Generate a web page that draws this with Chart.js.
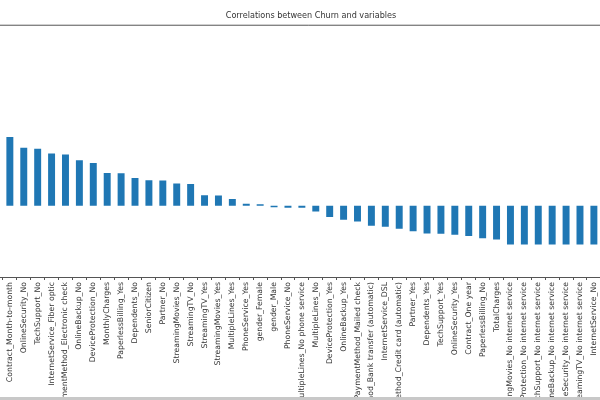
<!DOCTYPE html>
<html lang="en">
<head>
    <meta charset="UTF-8">
    <title>Correlations between Churn and variables</title>
    <style>
        body {
            margin: 0;
            width: 600px;
            height: 400px;
            overflow: hidden;
            background-color: #ffffff;
            position: relative;
        }
        .chart-container {
            position: absolute;
            left: -11px;
            top: 0;
            width: 644px;
            height: 400px;
        }
        .bottom-strip {
            position: absolute;
            left: 0;
            bottom: 0;
            width: 600px;
            height: 3px;
            background-color: #c8c8c8;
        }
    </style>
</head>
<body>
    <div class="chart-container">
        <canvas id="corrChart"></canvas>
    </div>
    <div class="bottom-strip"></div>

    <script src="https://cdn.jsdelivr.net/npm/chart.js"></script>
    <script>
        // correlation of every dummy column with Churn, sorted descending
        const categories = [
            'Churn', 'Contract_Month-to-month', 'OnlineSecurity_No', 'TechSupport_No',
            'InternetService_Fiber optic', 'PaymentMethod_Electronic check', 'OnlineBackup_No',
            'DeviceProtection_No', 'MonthlyCharges', 'PaperlessBilling_Yes', 'Dependents_No',
            'SeniorCitizen', 'Partner_No', 'StreamingMovies_No', 'StreamingTV_No',
            'StreamingTV_Yes', 'StreamingMovies_Yes', 'MultipleLines_Yes', 'PhoneService_Yes',
            'gender_Female', 'gender_Male', 'PhoneService_No', 'MultipleLines_No phone service',
            'MultipleLines_No', 'DeviceProtection_Yes', 'OnlineBackup_Yes',
            'PaymentMethod_Mailed check', 'PaymentMethod_Bank transfer (automatic)',
            'InternetService_DSL', 'PaymentMethod_Credit card (automatic)', 'Partner_Yes',
            'Dependents_Yes', 'TechSupport_Yes', 'OnlineSecurity_Yes', 'Contract_One year',
            'PaperlessBilling_No', 'TotalCharges', 'StreamingMovies_No internet service',
            'DeviceProtection_No internet service', 'TechSupport_No internet service',
            'OnlineBackup_No internet service', 'OnlineSecurity_No internet service',
            'StreamingTV_No internet service', 'InternetService_No', 'Contract_Two year', 'tenure'
        ];
        const corrValues = [
            1.0, 0.405, 0.342, 0.337,
            0.308, 0.302, 0.268,
            0.252, 0.193, 0.192, 0.164,
            0.151, 0.150, 0.131, 0.129,
            0.063, 0.061, 0.040, 0.012,
            0.009, -0.009, -0.012, -0.012,
            -0.033, -0.066, -0.082,
            -0.092, -0.118,
            -0.124, -0.135, -0.150,
            -0.163, -0.165, -0.171, -0.178,
            -0.191, -0.199, -0.228,
            -0.228, -0.228,
            -0.228, -0.228,
            -0.228, -0.228, -0.302, -0.352
        ];

        // matplotlib style 5% margins on the value axis
        const vMax = Math.max(...corrValues);
        const vMin = Math.min(...corrValues);
        const span = vMax - vMin;

        const frameLine = {
            id: 'frameLine',
            afterDraw(chart) {
                const { ctx, chartArea } = chart;
                ctx.save();
                ctx.strokeStyle = '#555';
                ctx.lineWidth = 1;
                ctx.beginPath();
                ctx.moveTo(chartArea.left, chartArea.top + 0.5);
                ctx.lineTo(chartArea.right, chartArea.top + 0.5);
                ctx.stroke();
                ctx.restore();
            }
        };

        new Chart(document.getElementById('corrChart'), {
            type: 'bar',
            data: {
                labels: categories,
                datasets: [{
                    label: 'Churn',
                    data: corrValues,
                    backgroundColor: '#1f77b4',
                    categoryPercentage: 1.0,
                    barPercentage: 0.5
                }]
            },
            options: {
                responsive: true,
                maintainAspectRatio: false,
                animation: false,
                layout: { padding: 0 },
                plugins: {
                    legend: { display: false },
                    tooltip: { enabled: false },
                    title: {
                        display: true,
                        text: 'Correlations between Churn and variables',
                        color: '#333',
                        font: { family: 'DejaVu Sans', size: 8.1, weight: 'normal', lineHeight: 1.2 },
                        padding: { top: 11, bottom: 4 }
                    }
                },
                scales: {
                    x: {
                        offset: true,
                        border: { display: true, color: '#555', width: 1 },
                        grid: { display: true, drawOnChartArea: false, drawTicks: true, tickLength: 3, color: '#555' },
                        ticks: {
                            autoSkip: false,
                            minRotation: 90,
                            maxRotation: 90,
                            padding: 2,
                            color: '#333',
                            font: { family: 'DejaVu Sans', size: 7.75 }
                        },
                        afterFit: (scale) => { scale.height = 123; }
                    },
                    y: {
                        display: false,
                        min: vMin - 0.05 * span,
                        max: vMax + 0.05 * span
                    }
                }
            },
            plugins: [frameLine]
        });
    </script>
</body>
</html>
